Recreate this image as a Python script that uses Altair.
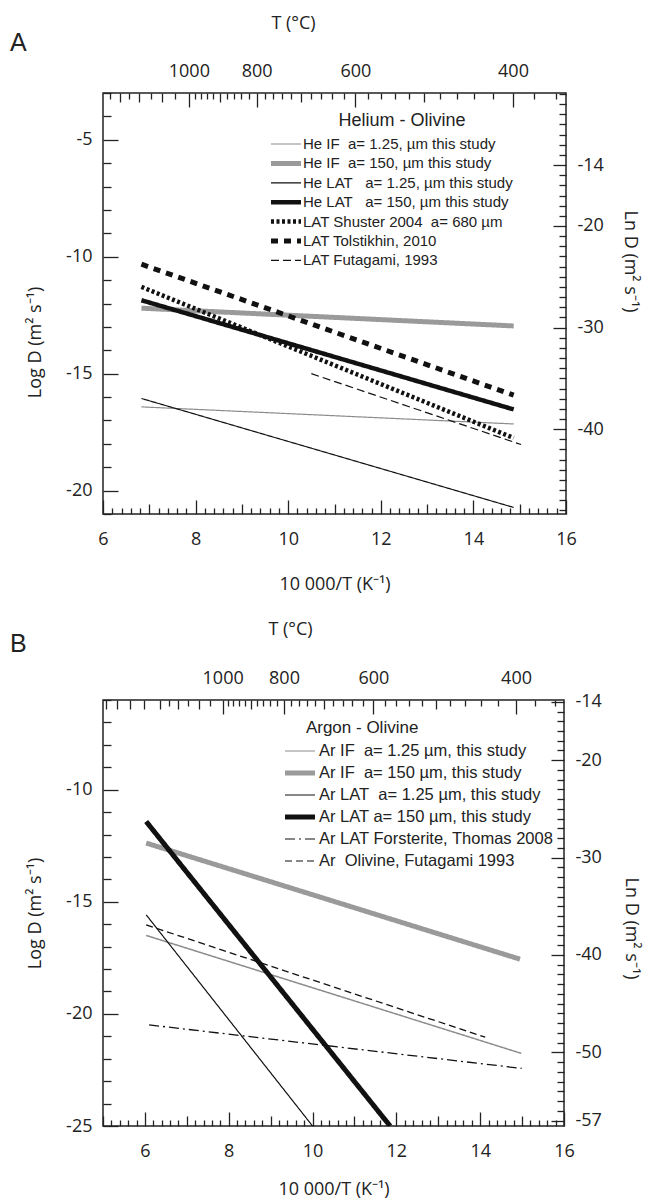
import json
import altair as alt
import numpy as np
import pandas as pd

LN10 = float(np.log(10))
NB = "\u00a0"
ZW = "\u200b"

# ---------------- Panel A : Helium - Olivine ----------------
A_SERIES = [
    f"He IF{NB}{NB}a= 1.25, µm this study",
    f"He IF{NB}{NB}a= 150, µm this study",
    f"He LAT{NB}{NB}{NB}a= 1.25, µm this study",
    f"He LAT{NB}{NB}{NB}a= 150, µm this study",
    f"LAT Shuster 2004{NB}{NB}a= 680 µm",
    "LAT Tolstikhin, 2010",
    "LAT Futagami, 1993",
]
A_X_START = [6.83, 6.83, 6.83, 6.83, 6.83, 6.83, 10.5]
A_X_END = [14.87, 14.87, 14.87, 14.87, 14.87, 14.87, 15.03]
A_Y_START = [-16.42, -12.2, -16.06, -11.86, -11.29, -10.32, -15.0]
A_Y_END = [-17.15, -12.96, -20.72, -16.53, -17.75, -15.92, -18.03]
A_COLORS = ["#8c8c8c", "#9a9a9a", "#111111", "#111111", "#111111", "#111111", "#111111"]
A_WIDTHS = [1.2, 5, 1.2, 4.5, 4.5, 5, 1.2]
A_DASHES = [[1, 0], [1, 0], [1, 0], [1, 0], [3, 2.5], [7, 6], [8, 4]]
A_XDOM = [6, 16]
A_YDOM = [-21, -3]
A_LN_LABELS = [-14, -20, -30, -40]
A_T_TICKS = [1350, 1300, 1250, 1200, 1150, 1100, 1050] + list(range(1000, 339, -20))

# ---------------- Panel B : Argon - Olivine ----------------
B_SERIES = [
    f"Ar IF{NB}{NB}a= 1.25 µm, this study",
    f"Ar IF{NB}{NB}a= 150 µm, this study",
    f"Ar LAT{NB}{NB}a= 1.25 µm, this study",
    "Ar LAT a= 150 µm, this study",
    "Ar LAT Forsterite, Thomas 2008",
    f"Ar{NB}{NB}Olivine, Futagami 1993",
]
B_X_START = [6.03, 6.03, 6.03, 6.03, 6.1, 6.03]
B_X_END = [14.98, 14.95, 10.0, 11.85, 14.99, 14.12]
B_Y_START = [-16.5, -12.38, -15.58, -11.42, -20.49, -16.03]
B_Y_END = [-21.76, -17.56, -25.0, -25.0, -22.43, -21.04]
B_COLORS = ["#8c8c8c", "#9a9a9a", "#111111", "#111111", "#111111", "#111111"]
B_WIDTHS = [1.5, 5, 1.2, 5, 1.3, 1.3]
B_DASHES = [[1, 0], [1, 0], [1, 0], [1, 0], [10, 4, 2, 4], [7, 4]]
B_XDOM = [5, 16]
B_YDOM = [-25, -6]
B_LN_LABELS = [-14, -20, -30, -40, -50, -57]
B_T_TICKS = [1700, 1600, 1500, 1400, 1300, 1250, 1200, 1150, 1100, 1050] + list(range(1000, 339, -20))

T_LABELS = [1000, 800, 600, 400]

FONT = "Open Sans"
LFONT = "Liberation Sans"
INK = "#222222"
SYM_SCALE = 4.0       # sqrt(symbolSize)/2 for symbolSize 64
SYM_HALF = 15.0       # legend line sample half length in px
SYM_STROKE = 1.2


def sample_path(width):
    """Legend line sample of a given stroke width, made of stacked thin strokes."""
    hx = SYM_HALF / SYM_SCALE
    if width <= 2:
        offs = [0.0]
    else:
        half = (width - SYM_STROKE) / 2 / SYM_SCALE
        n = max(2, int(np.ceil(2 * half / 0.2)))
        offs = list(np.linspace(-half, half, n + 1))
    return "".join(f"M{-hx:.3f},{o:.3f}H{hx:.3f}" for o in offs)


def make_df(series, xs, xe, ys, ye, widths, colors, dashes):
    rows = []
    for i, s in enumerate(series):
        for pt, (xv, yv) in enumerate([(xs[i], ys[i]), (xe[i], ye[i])]):
            rows.append({"series": s, "pt": pt, "x": xv, "logd": yv,
                         "sw": widths[i], "col": colors[i], "dash": dashes[i]})
    df = pd.DataFrame(rows)
    df["lnd"] = df["logd"] * LN10
    return df


BASE_AX = dict(
    labelFont=FONT, labelFontSize=18, labelColor=INK,
    titleFont=FONT, titleFontSize=18, titleFontWeight="normal", titleColor=INK,
    tickColor=INK, tickWidth=1.3, domain=False, grid=False,
    labelFlush=False, labelOverlap=False, labelBound=False,
    titleAlign="center", titleBaseline="middle",
)


def panel(df, series, colors, widths, dashes, xdom, ydom, ln_labels, t_ticks,
          letter, legend_title, legend_font, title_font, legend_x, legend_y, row_pad,
          label_off, title_pad, W, H, xtitle_y, ltitle, rtitle, ttitle, letter_xy):
    lndom = [ydom[0] * LN10, ydom[1] * LN10]
    even = "abs(datum.value/2 - round(datum.value/2)) < 0.001"
    integ = "abs(datum.value - round(datum.value)) < 0.001"
    xvals = [round(float(v), 1) for v in np.arange(xdom[0], xdom[1] + 1e-9, 0.2)]
    bottom_axis = alt.Axis(
        orient="bottom", values=xvals, title="10 000/T (K⁻¹)",
        tickSize={"expr": f"{even} ? -14 : ({integ} ? -10 : -6)"},
        labelExpr=f"{even} ? '' + round(datum.value) : ''",
        labelPadding=30, titleX=W / 2, titleY=xtitle_y, **BASE_AX)
    yvals = list(range(ydom[0], ydom[1] + 1))
    left_axis = alt.Axis(
        orient="left", values=yvals, title="Log D (m² s⁻¹)",
        tickSize={"expr": "datum.value % 5 === 0 ? -15 : -8"},
        labelExpr="datum.value % 5 === 0 ? '' + round(datum.value) : ''",
        labelPadding=26, titleX=ltitle[0], titleY=ltitle[1], titleAngle=270, **BASE_AX)
    tpos = [10000.0 / (t + 273.15) for t in t_ticks if xdom[0] <= 10000.0 / (t + 273.15) <= xdom[1]]
    tval = "round(10000/datum.value - 273.15)"
    top_axis = alt.Axis(
        orient="top", values=tpos, title="T (°C)",
        tickSize={"expr": f"indexof({json.dumps(T_LABELS)}, {tval}) >= 0 ? -14 : ({tval} % 100 === 0 ? -9 : -6)"},
        labelExpr=f"indexof({json.dumps(T_LABELS)}, {tval}) >= 0 ? '' + {tval} : ''",
        labelPadding=27, titleX=ttitle[0], titleY=ttitle[1], **BASE_AX)
    lnvals = list(range(int(np.ceil(lndom[0])), int(np.floor(lndom[1])) + 1))
    right_axis = alt.Axis(
        orient="right", values=lnvals, title="Ln D (m² s⁻¹)",
        tickSize={"expr": f"indexof({json.dumps(ln_labels)}, round(datum.value)) >= 0 ? -13 : -7"},
        labelExpr=f"indexof({json.dumps(ln_labels)}, round(datum.value)) >= 0 ? '' + round(datum.value) : ''",
        labelPadding=24, titleX=rtitle[0], titleY=rtitle[1], titleAngle=90, **BASE_AX)

    legend = alt.Legend(
        title=legend_title, orient="none", legendX=legend_x, legendY=legend_y,
        symbolSize=64, symbolStrokeWidth=SYM_STROKE, symbolOpacity=1,
        labelFont=LFONT, labelFontSize=legend_font, labelColor=INK, labelLimit=400, labelOffset=label_off,
        titleFont=LFONT, titleFontSize=title_font, titleFontWeight="normal", titleColor=INK,
        titleAnchor="start", titlePadding=title_pad, rowPadding=row_pad, padding=0, titleLimit=400)

    xsc = alt.Scale(domain=xdom, nice=False, zero=False)
    lines = alt.Chart(df).mark_line(clip=True, strokeCap="butt").encode(
        x=alt.X("x:Q", scale=xsc, axis=bottom_axis),
        y=alt.Y("logd:Q", scale=alt.Scale(domain=ydom, nice=False, zero=False), axis=left_axis),
        detail="series:N",
        color=alt.Color("col:N", scale=None),
        strokeDash=alt.StrokeDash("dash:N", scale=None),
        strokeWidth=alt.StrokeWidth("sw:Q", scale=None),
        order=alt.Order("pt:Q"),
    )
    # legend carrier: no data rows drawn, only scales feeding one merged legend
    legend_layer = alt.Chart(df).transform_filter("false").mark_point(
        opacity=1, strokeWidth=SYM_STROKE, filled=False
    ).encode(
        color=alt.Color("series:N", scale=alt.Scale(domain=series, range=colors), legend=legend),
        strokeDash=alt.StrokeDash("series:N", scale=alt.Scale(domain=series, range=dashes), legend=legend),
        shape=alt.Shape("series:N", scale=alt.Scale(domain=series, range=[sample_path(w) for w in widths]),
                        legend=legend),
    )
    axes_layer = alt.Chart(df).mark_point(opacity=0).encode(
        x=alt.X("x:Q", scale=xsc, axis=top_axis),
        y=alt.Y("lnd:Q", scale=alt.Scale(domain=lndom, nice=False, zero=False), axis=right_axis),
    )
    letter_layer = alt.Chart(pd.DataFrame({"t": [letter]})).mark_text(
        align="left", baseline="middle", fontSize=25, font=LFONT, color=INK
    ).encode(x=alt.value(letter_xy[0]), y=alt.value(letter_xy[1]), text="t:N")

    return alt.layer(lines, axes_layer, legend_layer, letter_layer).resolve_scale(
        x="independent", y="independent"
    ).properties(width=W, height=H)


dfA = make_df(A_SERIES, A_X_START, A_X_END, A_Y_START, A_Y_END, A_WIDTHS, A_COLORS, A_DASHES)
dfB = make_df(B_SERIES, B_X_START, B_X_END, B_Y_START, B_Y_END, B_WIDTHS, B_COLORS, B_DASHES)

pA = panel(dfA, A_SERIES, A_COLORS, A_WIDTHS, A_DASHES, A_XDOM, A_YDOM, A_LN_LABELS, A_T_TICKS,
           "A", ZW + NB * 12 + "Helium - Olivine", 15, 18, 175.5, 19, 3.4, 9.5, 6.5,
           463, 421, 70, (-68, 249), (63, 168), (190, -70), (-93, -50))
pB = panel(dfB, B_SERIES, B_COLORS, B_WIDTHS, B_DASHES, B_XDOM, B_YDOM, B_LN_LABELS, B_T_TICKS,
           "B", ZW + NB * 3 + "Argon - Olivine", 16.5, 17, 188.75, 19.5, 5, 10.75, 6.25,
           461, 426, 63, (-68, 213), (66, 228), (187, -71), (-93, -56))

chart = alt.vconcat(pA, pB, spacing=186, bounds="flush").resolve_scale(
    color="independent", strokeDash="independent", shape="independent"
).resolve_legend(
    color="independent", strokeDash="independent", shape="independent"
).configure_view(
    stroke=INK, strokeWidth=1.5
).properties(padding={"left": 1, "top": 5, "right": 3, "bottom": 0})

chart.save("out.html", embed_options={"renderer": "svg", "actions": False})
